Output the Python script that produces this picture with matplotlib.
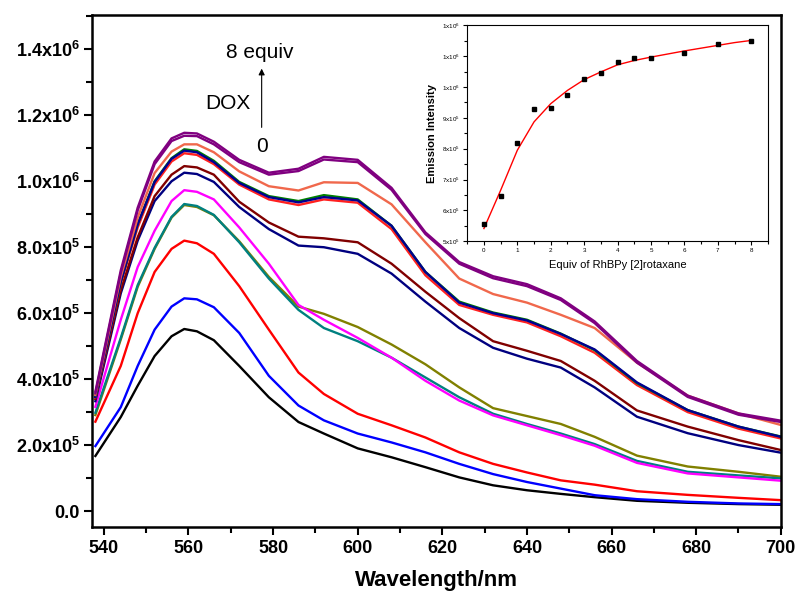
import numpy as np
import matplotlib
matplotlib.use('Agg')
import matplotlib.pyplot as plt
from matplotlib.ticker import MultipleLocator, FixedLocator

plt.rcParams['font.family'] = ['Liberation Sans', 'DejaVu Sans']
plt.rcParams['mathtext.fontset'] = 'custom'
plt.rcParams['mathtext.rm'] = 'Liberation Sans'
plt.rcParams['mathtext.bf'] = 'Liberation Sans:bold'

# wavelengths (nm)
wl = [538, 544, 548, 552, 556, 559, 562, 566, 572, 579, 586, 592,
      600, 608, 616, 624, 632, 640, 648, 656, 666, 678, 690, 700]

# emission intensity (x1e5) per DOX equivalents
eq0 = [1.67, 2.85, 3.80, 4.70, 5.30, 5.52, 5.45, 5.18, 4.40, 3.45, 2.70, 2.35,
       1.90, 1.63, 1.33, 1.02, 0.78, 0.63, 0.52, 0.42, 0.31, 0.25, 0.21, 0.19]
eq05 = [1.97, 3.15, 4.40, 5.50, 6.20, 6.45, 6.42, 6.18, 5.40, 4.10, 3.20, 2.75,
        2.35, 2.08, 1.78, 1.43, 1.12, 0.88, 0.68, 0.48, 0.36, 0.28, 0.23, 0.21]
eq1 = [2.71, 4.40, 6.00, 7.25, 7.95, 8.20, 8.12, 7.80, 6.82, 5.50, 4.20, 3.55,
       2.95, 2.60, 2.23, 1.78, 1.43, 1.17, 0.93, 0.80, 0.60, 0.49, 0.40, 0.33]
eq15 = [2.91, 5.20, 6.80, 7.95, 8.90, 9.28, 9.22, 8.97, 8.18, 7.10, 6.20, 5.98,
        5.58, 5.05, 4.45, 3.75, 3.12, 2.88, 2.64, 2.25, 1.68, 1.35, 1.19, 1.04]
eq2 = [2.98, 5.25, 6.85, 7.98, 8.92, 9.31, 9.25, 8.98, 8.15, 7.05, 6.10, 5.55,
       5.15, 4.65, 4.05, 3.45, 2.95, 2.64, 2.35, 2.03, 1.52, 1.19, 1.08, 0.99]
eq25 = [3.16, 5.80, 7.40, 8.50, 9.40, 9.73, 9.68, 9.45, 8.60, 7.50, 6.25, 5.80,
        5.25, 4.65, 3.95, 3.35, 2.90, 2.60, 2.30, 1.98, 1.46, 1.14, 1.02, 0.92]
eq3 = [3.33, 6.60, 8.20, 9.40, 10.00, 10.26, 10.22, 9.98, 9.22, 8.55, 8.05, 8.00,
       7.80, 7.20, 6.35, 5.55, 4.95, 4.62, 4.35, 3.75, 2.86, 2.36, 2.00, 1.77]
eq35 = [3.40, 6.70, 8.30, 9.55, 10.20, 10.46, 10.42, 10.20, 9.38, 8.75, 8.32, 8.27,
        8.15, 7.50, 6.65, 5.85, 5.15, 4.86, 4.55, 3.95, 3.05, 2.56, 2.15, 1.85]
eq4 = [3.45, 6.90, 8.60, 9.90, 10.60, 10.85, 10.80, 10.52, 9.90, 9.45, 9.28, 9.45,
       9.35, 8.55, 7.15, 6.25, 5.95, 5.72, 5.30, 4.80, 3.82, 3.00, 2.50, 2.20]
eq45 = [3.47, 6.95, 8.70, 10.00, 10.70, 10.97, 10.92, 10.62, 9.98, 9.55, 9.40, 9.58,
        9.45, 8.65, 7.25, 6.35, 6.02, 5.80, 5.38, 4.88, 3.88, 3.06, 2.56, 2.26]
eq5 = [3.46, 6.95, 8.70, 9.98, 10.68, 10.93, 10.88, 10.58, 9.95, 9.52, 9.36, 9.52,
       9.42, 8.65, 7.25, 6.32, 6.00, 5.78, 5.37, 4.90, 3.90, 3.06, 2.56, 2.25]
eq6 = [3.52, 7.10, 8.90, 10.25, 10.90, 11.12, 11.12, 10.88, 10.30, 9.85, 9.72, 9.97,
       9.95, 9.30, 8.15, 7.05, 6.58, 6.32, 5.95, 5.55, 4.50, 3.50, 2.96, 2.61]
eq7 = [3.57, 7.22, 9.12, 10.52, 11.22, 11.38, 11.37, 11.12, 10.58, 10.20, 10.31, 10.66,
       10.58, 9.74, 8.40, 7.50, 7.06, 6.82, 6.40, 5.70, 4.50, 3.46, 2.92, 2.70]
eq8 = [3.62, 7.30, 9.20, 10.60, 11.30, 11.47, 11.45, 11.20, 10.65, 10.26, 10.38, 10.74,
       10.65, 9.80, 8.45, 7.55, 7.12, 6.88, 6.45, 5.75, 4.55, 3.50, 2.96, 2.74]

spectra = [eq0, eq05, eq1, eq15, eq2, eq25, eq3, eq35, eq4, eq45, eq5, eq6, eq7, eq8]
colors = ['#000000', '#0000FF', '#FF0000', '#808000', '#008080', '#FF00FF', '#000080',
          '#800000', '#FF2020', '#008000', '#000090', '#F0684C', '#800080', '#800080']

ytick_vals = [0, 2e5, 4e5, 6e5, 8e5, 1.0e6, 1.2e6, 1.4e6]
ytick_labels = ['0.0', r'2.0x10$^{\mathbf{5}}$', r'4.0x10$^{\mathbf{5}}$', r'6.0x10$^{\mathbf{5}}$',
                r'8.0x10$^{\mathbf{5}}$', r'1.0x10$^{\mathbf{6}}$', r'1.2x10$^{\mathbf{6}}$',
                r'1.4x10$^{\mathbf{6}}$']

# inset: titration
equiv = [0, 0.5, 1, 1.5, 2, 2.5, 3, 3.5, 4, 4.5, 5, 6, 7, 8]
intensity = [5.56e5, 6.48e5, 8.19e5, 9.29e5, 9.31e5, 9.73e5, 1.026e6, 1.045e6,
             1.081e6, 1.095e6, 1.093e6, 1.111e6, 1.138e6, 1.150e6]
fit_x = [0, 0.5, 1, 1.5, 2, 2.5, 3, 3.5, 4, 4.5, 5, 5.5, 6, 6.5, 7, 7.5, 8]
fit_y = [5.41e5, 6.65e5, 7.95e5, 8.87e5, 9.46e5, 9.89e5, 1.024e6, 1.049e6, 1.072e6,
         1.086e6, 1.097e6, 1.107e6, 1.117e6, 1.126e6, 1.135e6, 1.144e6, 1.151e6]
in_yticks = [5e5, 6e5, 7e5, 8e5, 9e5, 1.0e6, 1.1e6, 1.2e6]
in_ylabels = [r'5x10$^{5}$', r'6x10$^{5}$', r'7x10$^{5}$', r'8x10$^{5}$', r'9x10$^{5}$',
              r'1x10$^{6}$', r'1x10$^{6}$', r'1x10$^{6}$']

fig = plt.figure(figsize=(8.0, 6.03), dpi=100)
ax = fig.add_axes([0.115, 0.126, 0.861, 0.849])

for s, c in zip(spectra, colors):
    ax.plot(wl, np.array(s) * 1e5, color=c, lw=1.7)

ax.set_xlim(537.2, 700)
ax.set_ylim(-4.85e4, 1.504e6)
ax.xaxis.set_major_locator(MultipleLocator(20))
ax.xaxis.set_minor_locator(MultipleLocator(10))
ax.yaxis.set_major_locator(FixedLocator(ytick_vals))
ax.yaxis.set_minor_locator(MultipleLocator(1e5))
ax.set_yticklabels(ytick_labels)
ax.tick_params(which='major', direction='out', length=6, width=1.5, labelsize=13, pad=3)
ax.tick_params(which='minor', direction='out', length=4, width=1.5)
for lab in ax.get_xticklabels() + ax.get_yticklabels():
    lab.set_fontweight('bold')
for sp in ax.spines.values():
    sp.set_linewidth(1.8)
ax.set_xlabel('Wavelength/nm', fontsize=16, fontweight='bold', labelpad=10)

ax.text(576.8, 13.92e5, '8 equiv', fontsize=15, ha='center', va='center')
ax.text(569.3, 12.36e5, 'DOX', fontsize=15, ha='center', va='center')
ax.text(577.3, 11.05e5, '0', fontsize=15, ha='center', va='center')
ax.annotate('', xy=(577.3, 13.5e5), xytext=(577.3, 11.55e5),
            arrowprops=dict(arrowstyle='-|>', color='black', lw=0.8, mutation_scale=9))

# inset
ins = fig.add_axes([0.584, 0.600, 0.376, 0.358])
ins.set_facecolor('white')
ins.plot(fit_x, fit_y, color='red', lw=1)
ins.plot(equiv, intensity, 's', color='black', ms=3.5)
ins.set_xlim(-0.5, 8.5)
ins.set_ylim(5e5, 1.2e6)
ins.xaxis.set_major_locator(MultipleLocator(1))
ins.xaxis.set_minor_locator(MultipleLocator(0.5))
ins.yaxis.set_major_locator(FixedLocator(in_yticks))
ins.yaxis.set_minor_locator(MultipleLocator(5e4))
ins.set_yticklabels(in_ylabels)
ins.tick_params(which='major', direction='out', length=3, width=0.8, labelsize=4.5, pad=2)
ins.tick_params(which='minor', direction='out', length=2, width=0.8)
for sp in ins.spines.values():
    sp.set_linewidth(0.8)
ins.set_xlabel('Equiv of RhBPy [2]rotaxane', fontsize=8, labelpad=5)
ins.set_ylabel('Emission Intensity', fontsize=8, fontweight='bold', labelpad=4)

fig.savefig('out.png', dpi=100)
